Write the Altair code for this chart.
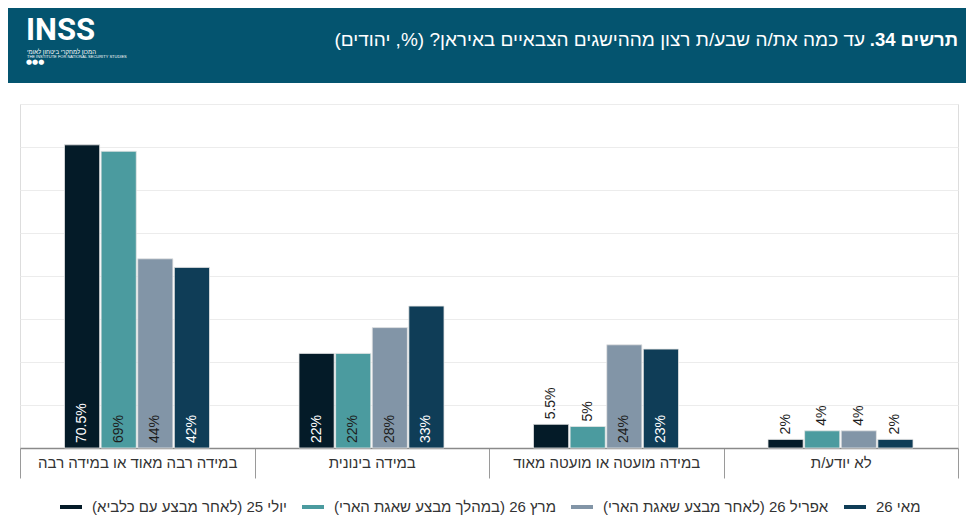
import altair as alt
import pandas as pd

RLM = "\u200f"

categories = [
    "במידה רבה מאוד או במידה רבה",
    "במידה בינונית",
    "במידה מועטה או מועטה מאוד",
    "לא יודע/ת",
]
series = [
    "יולי 25 (לאחר מבצע עם כלביא)",
    "מרץ 26 (במהלך מבצע שאגת הארי)",
    "אפריל 26 (לאחר מבצע שאגת הארי)",
    "מאי 26",
]
jul25 = [70.5, 22, 5.5, 2]
mar26 = [69, 22, 5, 4]
apr26 = [44, 28, 24, 4]
may26 = [42, 33, 23, 2]
colors = ["#041b28", "#4b9b9f", "#8295a7", "#0f3d57"]

title_bold = "תרשים 34."
title_rest = "עד כמה את/ה שבע/ת רצון מההישגים הצבאיים באיראן? (%, יהודים)"
logo_main = "INSS"
logo_heb = "המכון למחקרי ביטחון לאומי"
logo_eng = "THE INSTITUTE FOR NATIONAL SECURITY STUDIES"

rows = []
for s, vals in zip(series, [jul25, mar26, apr26, may26]):
    for c, v in zip(categories, vals):
        lab = (f"{v:g}") + "%"
        rows.append({"category": c, "series": s, "value": v, "label": lab})
df = pd.DataFrame(rows)

FONT = "Liberation Sans"
W, H = 938, 344

xenc = alt.X("category:N", sort=categories, title=None,
             scale=alt.Scale(paddingInner=0, paddingOuter=0),
             axis=alt.Axis(labelAngle=0, domainColor="#8a8a8a", domainWidth=1.5,
                           tickBand="extent", tickSize=30, tickColor="#9a9a9a",
                           labelPadding=-23, labelFontSize=15, labelColor="#333333",
                           labelLimit=0,
                           labelFont=FONT, labelExpr="'\u200f' + datum.label + '\u200f'"))
xoff = alt.XOffset("series:N", sort=series,
                   scale=alt.Scale(paddingInner=0.04, paddingOuter=0, range=[44.5, 189.5]))
yenc = alt.Y("value:Q", scale=alt.Scale(domain=[0, 80]), title=None,
             axis=alt.Axis(values=list(range(0, 81, 10)), labels=False, ticks=False,
                           domain=False, grid=True, gridColor="#ececec"))

base = alt.Chart(df)

bars = base.mark_bar(stroke="#e4e4e4", strokeWidth=0.8).encode(
    x=xenc, xOffset=xoff, y=yenc,
    color=alt.Color("series:N", sort=series,
                    scale=alt.Scale(domain=series, range=colors),
                    legend=alt.Legend(title=None, orient="none", direction="horizontal",
                                      legendX=40, legendY=392,
                                      symbolType="M-1,-0.18L1,-0.18L1,0.18L-1,0.18Z",
                                      symbolSize=484, symbolStrokeWidth=0,
                                      labelOffset=10, columnPadding=15,
                                      labelFontSize=15, labelColor="#333333",
                                      labelFont=FONT, labelLimit=0,
                                      labelExpr="'\u200f' + datum.label + '\u200f'")),
)

dark_series = [series[0], series[3]]
txt_color = alt.condition(alt.FieldOneOfPredicate(field="series", oneOf=dark_series),
                          alt.value("white"), alt.value("#1d1d1d"))

inside = base.transform_filter("datum.value >= 10").transform_calculate(zero="0").mark_text(
    angle=270, align="left", baseline="middle", dx=5, fontSize=14, font=FONT
).encode(x=xenc, xOffset=xoff, y=alt.Y("zero:Q", scale=alt.Scale(domain=[0, 80])),
         text="label:N", color=txt_color)

outside = base.transform_filter("datum.value < 10").mark_text(
    angle=270, align="left", baseline="middle", dx=5, fontSize=14, font=FONT,
    color="#1d1d1d"
).encode(x=xenc, xOffset=xoff, y=alt.Y("value:Q"), text="label:N")

one = pd.DataFrame({"k": [0]})
header = alt.Chart(one).mark_rect(color="#04546f").encode(
    x=alt.value(-12), x2=alt.value(950), y=alt.value(-96), y2=alt.value(-21))

t_bold = alt.Chart(one).mark_text(align="right", baseline="middle", fontSize=18.5,
                                  fontWeight="bold", font=FONT, color="white").encode(
    x=alt.value(938), y=alt.value(-64), text=alt.value(RLM + title_bold + RLM))
t_rest = alt.Chart(one).mark_text(align="right", baseline="middle", fontSize=19,
                                  font=FONT, color="white").encode(
    x=alt.value(845), y=alt.value(-64), text=alt.value(RLM + title_rest + RLM))

l_main = alt.Chart(one).mark_text(align="left", baseline="alphabetic", fontSize=31,
                                  fontWeight="bold", font="Roboto", color="white").encode(
    x=alt.value(6), y=alt.value(-64), text=alt.value(logo_main))
l_heb = alt.Chart(one).mark_text(align="left", baseline="middle", fontSize=6,
                                 font=FONT, color="white").encode(
    x=alt.value(7), y=alt.value(-52.5), text=alt.value(RLM + logo_heb + RLM))
l_eng = alt.Chart(one).mark_text(align="left", baseline="middle", fontSize=4,
                                 font=FONT, color="white").encode(
    x=alt.value(7), y=alt.value(-47.5), text=alt.value(logo_eng))
l_dots = alt.Chart(one).mark_text(align="left", baseline="middle", fontSize=7,
                                  font="DejaVu Sans", color="white").encode(
    x=alt.value(6), y=alt.value(-42), text=alt.value("●●●"))

chart = alt.layer(header, t_bold, t_rest, l_main, l_heb, l_eng, l_dots,
                  bars, inside, outside).properties(
    width=W, height=H,
    autosize=alt.AutoSizeParams(type="none"),
    padding={"left": 12, "top": 96, "right": 8, "bottom": 70},
).configure_view(stroke=None).configure(font=FONT)

chart.save("out.html", embed_options={"renderer": "svg", "actions": False})
